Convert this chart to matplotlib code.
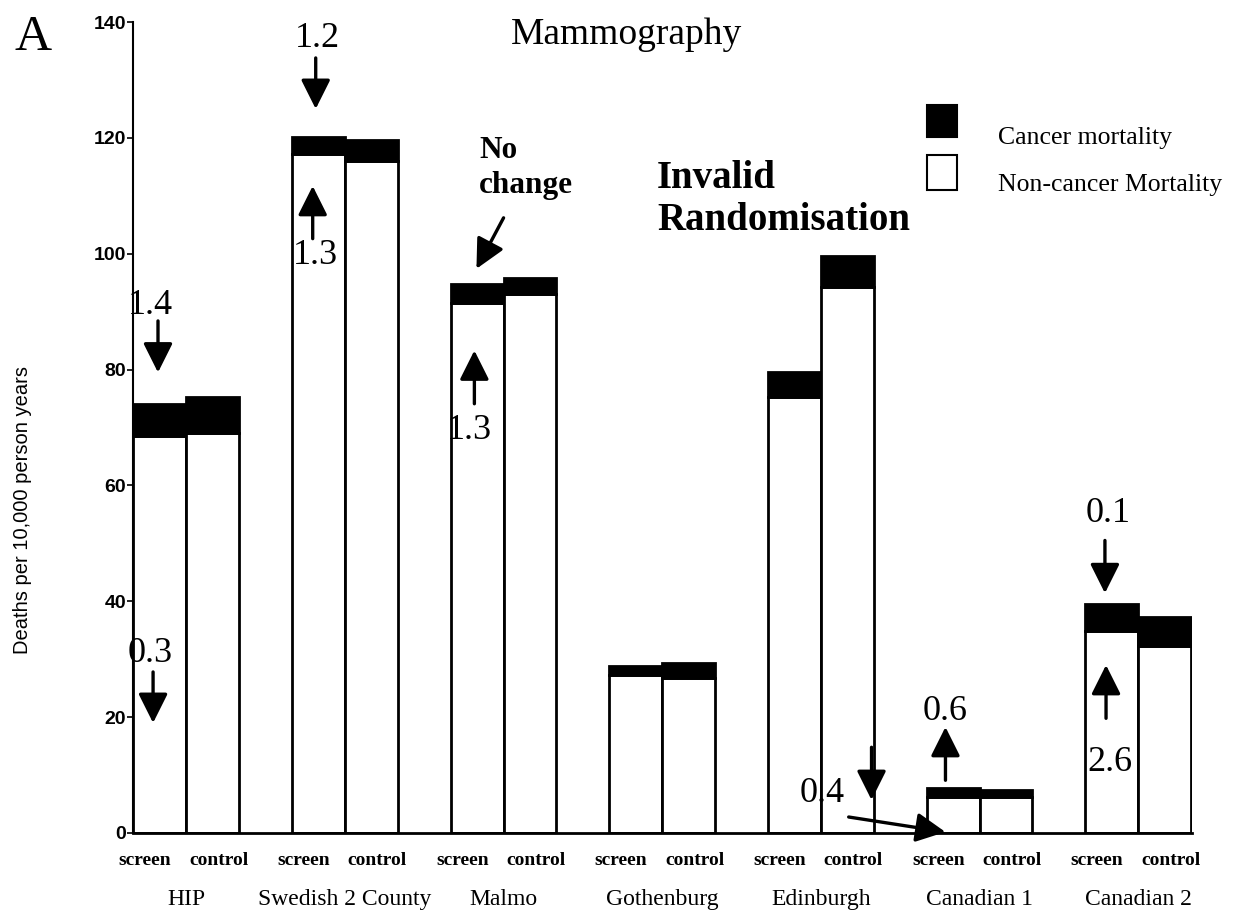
import matplotlib
matplotlib.use("Agg")
import matplotlib.pyplot as plt
from matplotlib.patches import Rectangle
import numpy as np

# ---- data ----
trials = ["HIP", "Swedish 2 County", "Malmo", "Gothenburg", "Edinburgh", "Canadian 1", "Canadian 2"]
arms = ["screen", "control"]
noncancer_screen = [68.5, 117.3, 91.5, 27.3, 75.3, 6.2, 34.8]
cancer_screen = [5.5, 2.9, 3.2, 1.5, 4.2, 1.6, 4.8]
noncancer_control = [69.0, 116.0, 93.0, 26.8, 94.3, 6.2, 32.3]
cancer_control = [6.3, 3.7, 2.8, 2.6, 5.3, 1.3, 5.0]
yticks = [0, 20, 40, 60, 80, 100, 120, 140]

# annotation labels: (text, text_x, text_y, arrow_x0, arrow_y0, arrow_x1, arrow_y1)
notes = [
    ("1.4", -0.228, 91.0, -0.178, 88.4, -0.178, 79.5),
    ("0.3", -0.228, 31.0, -0.209, 27.8, -0.209, 19.0),
    ("1.2", 0.828, 137.2, 0.816, 133.8, 0.816, 125.0),
    ("1.3", 0.816, 99.7, 0.797, 102.6, 0.797, 111.7),
    ("1.3", 1.785, 69.5, 1.816, 74.1, 1.816, 83.3),
    ("0.6", 4.785, 20.9, 4.785, 9.1, 4.785, 18.3),
    ("0.1", 5.81, 55.2, 5.79, 50.5, 5.79, 41.4),
    ("2.6", 5.822, 12.2, 5.797, 19.8, 5.797, 29.0),
]

serif = ["Liberation Serif", "DejaVu Serif"]
sans = ["Liberation Sans", "DejaVu Sans"]

fig = plt.figure(figsize=(12.38, 9.18), dpi=100)
ax = fig.add_axes([0.1075, 0.0926, 0.8555, 0.8834])

x = np.arange(len(trials))
w = 1 / 3
xs = x - w / 2
xc = x + w / 2
kw = dict(width=w, edgecolor="black", linewidth=2)
ax.bar(xs, noncancer_screen, color="white", **kw)
ax.bar(xs, cancer_screen, bottom=noncancer_screen, color="black", **kw)
ax.bar(xc, noncancer_control, color="white", **kw)
ax.bar(xc, cancer_control, bottom=noncancer_control, color="black", **kw)

ax.set_xlim(-0.335, len(trials) - 0.66)
ax.set_ylim(0, 140)
ax.set_yticks(yticks)
ax.set_yticklabels([str(v) for v in yticks], fontfamily=sans, fontweight="bold", fontsize=14)
ax.tick_params(axis="y", length=4, width=1.2, direction="out", pad=1)
ax.spines["top"].set_visible(False)
ax.spines["right"].set_visible(False)
ax.spines["left"].set_linewidth(1.5)
ax.spines["bottom"].set_linewidth(2)

# arm labels below each bar (screen shifted left, control shifted right as in the original)
pos = np.concatenate([xs - 0.094, xc + 0.038])
labs = [arms[0]] * len(trials) + [arms[1]] * len(trials)
ax.set_xticks(pos)
ax.set_xticklabels(labs, fontfamily=serif, fontweight="bold", fontsize=14)
ax.tick_params(axis="x", length=0, pad=14)
for xi, name in zip(x, trials):
    ax.text(xi, -0.0826, name, transform=ax.get_xaxis_transform(), ha="center", va="center",
            fontfamily=serif, fontsize=17)

ax.set_ylabel("Deaths per 10,000 person years", fontfamily=sans, fontsize=14.5)
ax.yaxis.set_label_coords(-0.095, 0.398)

aprops = dict(arrowstyle="-|>,head_length=0.9,head_width=0.45", lw=2.4,
              color="black", mutation_scale=20, shrinkA=0, shrinkB=0)

# annotations
for t, tx, ty, ax0, ay0, ax1, ay1 in notes:
    ax.text(tx, ty, t, ha="center", va="center", fontfamily=serif, fontsize=26)
    ax.annotate("", xy=(ax1, ay1), xytext=(ax0, ay0), arrowprops=aprops)

ax.text(4.005, 6.9, "0.4", ha="center", va="center", fontfamily=serif, fontsize=26)
ax.annotate("", xy=(4.785, 0.17), xytext=(4.175, 2.76), arrowprops=aprops)
ax.annotate("", xy=(4.319, 5.7), xytext=(4.319, 14.8), arrowprops=aprops)

ax.text(1.847, 114.8, "No\nchange", ha="left", va="center", fontfamily=serif,
        fontweight="bold", fontsize=22.5, linespacing=1.25)
ax.annotate("", xy=(1.829, 97.4), xytext=(2.0, 106.2), arrowprops=aprops)

ax.text(2.967, 109.3, "Invalid\nRandomisation", ha="left", va="center", fontfamily=serif,
        fontweight="bold", fontsize=28, linespacing=1.18)

# titles
fig.text(0.012, 0.959, "A", fontfamily=serif, fontsize=37, ha="left", va="center")
fig.text(0.506, 0.962, "Mammography", fontfamily=serif, fontsize=27, ha="center", va="center")

# legend (manual patches in axes fraction)
ax.add_patch(Rectangle((0.750, 0.858), 0.0283, 0.040, transform=ax.transAxes, facecolor="black",
                       edgecolor="black", lw=1.5, clip_on=False))
ax.add_patch(Rectangle((0.750, 0.793), 0.0283, 0.043, transform=ax.transAxes, facecolor="white",
                       edgecolor="black", lw=1.5, clip_on=False))
ax.text(0.817, 0.857, "Cancer mortality", transform=ax.transAxes, fontfamily=serif, fontsize=18.5,
        ha="left", va="center")
ax.text(0.817, 0.799, "Non-cancer Mortality", transform=ax.transAxes, fontfamily=serif, fontsize=18.5,
        ha="left", va="center")

fig.savefig("out.png", dpi=100)
